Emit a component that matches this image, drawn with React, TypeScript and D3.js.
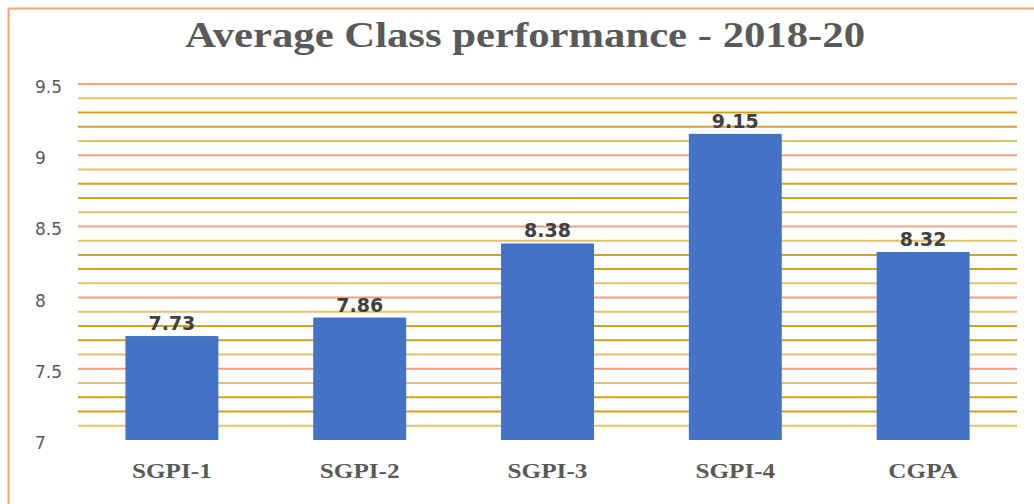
import React from 'react';
import * as d3 from 'd3';

const categories = ['SGPI-1', 'SGPI-2', 'SGPI-3', 'SGPI-4', 'CGPA'];
const values = [7.73, 7.86, 8.38, 9.15, 8.32];
const majorTicks = [7, 7.5, 8, 8.5, 9, 9.5];
const minorTicks = [
  7.1, 7.2, 7.3, 7.4, 7.6, 7.7, 7.8, 7.9, 8.1, 8.2, 8.3, 8.4,
  8.6, 8.7, 8.8, 8.9, 9.1, 9.2, 9.3, 9.4,
];
const title = 'Average Class performance - 2018-20';

const width = 1034;
const height = 504;
const margin = { top: 84, right: 17, bottom: 64, left: 78 };

export default function App() {
  const x = d3
    .scaleBand()
    .domain(categories)
    .range([margin.left, width - margin.right])
    .paddingInner(0.505)
    .paddingOuter(0.2525);

  const y = d3
    .scaleLinear()
    .domain([7, 9.5])
    .range([height - margin.bottom, margin.top]);

  // light / dark gold cycle, like the reference
  const minorColor = (i: number) =>
    i % 4 === 1 || i % 4 === 2 ? '#CFA21E' : '#E3C26E';

  return (
    <svg
      width={width}
      height={height}
      style={{ position: 'absolute', left: 0, top: 0, background: '#fff' }}
    >
      {/* frame */}
      <line x1={8.5} x2={width} y1={8.5} y2={8.5} stroke='#EFA47A' strokeWidth={2} />
      <line x1={8.5} x2={8.5} y1={8.5} y2={height} stroke='#EFA47A' strokeWidth={2} />

      <text
        x={525}
        y={47}
        textAnchor='middle'
        textLength={680}
        lengthAdjust='spacingAndGlyphs'
        fontFamily='Liberation Serif, Times New Roman, serif'
        fontWeight='bold'
        fontSize={36}
        fill='#595959'
      >
        {title}
      </text>

      <g className='grid'>
        {minorTicks.map((t, i) => (
          <line
            key={'m' + t}
            x1={margin.left}
            x2={width - margin.right}
            y1={y(t)}
            y2={y(t)}
            stroke={minorColor(i)}
            strokeWidth={2}
          />
        ))}
        {majorTicks
          .filter((t) => t > 7)
          .map((t) => (
            <line
              key={'M' + t}
              x1={margin.left}
              x2={width - margin.right}
              y1={y(t)}
              y2={y(t)}
              stroke='#EFA07C'
              strokeWidth={2}
            />
          ))}
      </g>

      <g className='yAxis'>
        {majorTicks.map((t) => (
          <text
            key={t}
            x={35}
            y={y(t) + 9}
            fontFamily='DejaVu Sans, sans-serif'
            fontSize={17}
            fill='#595959'
          >
            {t}
          </text>
        ))}
      </g>

      <g className='area'>
        {categories.map((c, i) => (
          <rect
            key={c}
            x={x(c)}
            width={x.bandwidth()}
            y={y(values[i])}
            height={y(7) - y(values[i])}
            fill='#4472C4'
          />
        ))}
      </g>

      <g className='labels'>
        {categories.map((c, i) => (
          <text
            key={c}
            x={(x(c) as number) + x.bandwidth() / 2}
            y={y(values[i]) - 6}
            textAnchor='middle'
            fontFamily='DejaVu Sans, sans-serif'
            fontWeight='bold'
            fontSize={19}
            fill='#404040'
          >
            {values[i].toFixed(2)}
          </text>
        ))}
      </g>

      <g className='xAxis'>
        {categories.map((c) => (
          <text
            key={c}
            transform={`translate(${(x(c) as number) + x.bandwidth() / 2},478) scale(1.2,1)`}
            textAnchor='middle'
            fontFamily='Liberation Serif, Times New Roman, serif'
            fontWeight='bold'
            fontSize={21}
            fill='#595959'
          >
            {c}
          </text>
        ))}
      </g>
    </svg>
  );
}
